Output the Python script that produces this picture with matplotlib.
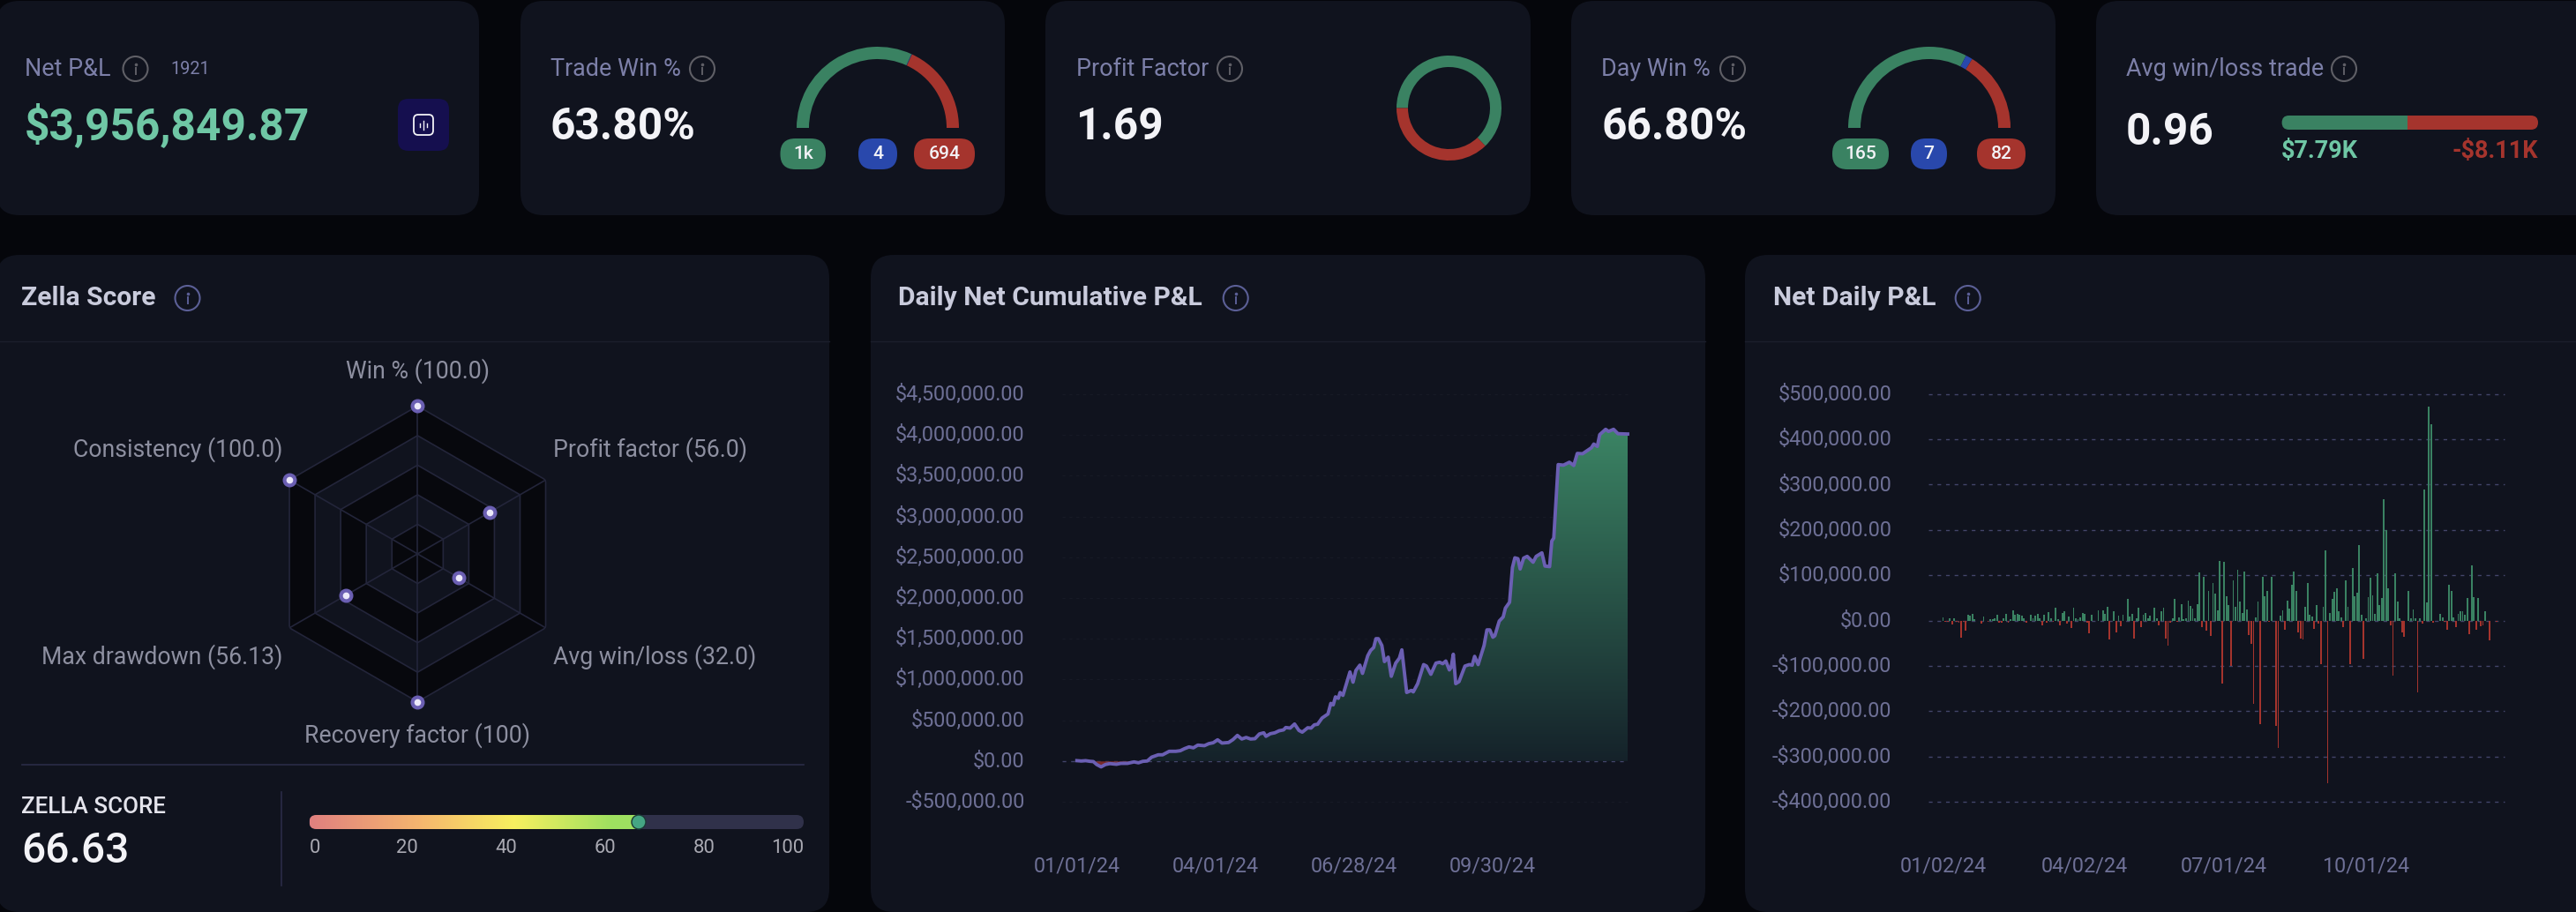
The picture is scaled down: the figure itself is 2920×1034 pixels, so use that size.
#!/usr/bin/env python3
import numpy as np
import matplotlib
matplotlib.use("Agg")
import matplotlib.pyplot as plt
from matplotlib.colors import LinearSegmentedColormap
from matplotlib.patches import Circle, FancyBboxPatch, Rectangle, Wedge
from matplotlib.transforms import ScaledTranslation

plt.rcParams["font.family"] = ["Roboto", "DejaVu Sans"]

W, H = 2920, 1034

# top row
net_pnl = "$3,956,849.87"
trade_counts = [1223, 4, 694]
trade_labels = ["1k", "4", "694"]
day_counts = [165, 7, 82]
day_labels = ["165", "7", "82"]
profit_factor = 1.69
avg_win, avg_loss = 7.79, 8.11

# radar
radar_names = ["Win % (100.0)", "Profit factor (56.0)", "Avg win/loss (32.0)",
               "Recovery factor (100)", "Max drawdown (56.13)", "Consistency (100.0)"]
radar_values = [100, 56, 32, 100, 56.13, 100]
zella_score = 66.63
score_ticks = ["0", "20", "40", "60", "80", "100"]

# cumulative P&L, thousands of dollars
cum_days = [0, 2, 4, 6, 7.5, 9, 11, 13, 15, 18, 20, 23, 26, 28, 30, 32, 34, 37, 39, 42, 45, 47, 49, 51, 53,
            55, 58, 60, 62, 64, 66, 69, 71, 73, 75, 77, 79, 81, 83, 85, 86, 88, 90, 92, 94, 95, 97, 99, 101,
            102.5, 105, 106.5, 108, 109.5, 111.5, 114.2, 115.5, 116.6, 117.6, 118.9, 119.7, 121, 122.6, 124.2,
            125.6, 126.9, 128.7, 129.9, 132.3, 133.6, 135, 136, 137.1, 138.7, 139.9, 141.6, 143, 145, 146.7,
            147.8, 150, 152.1, 153, 155, 157.7, 159, 161, 163.3, 165, 166.4, 167.8, 169.4, 170.2, 171.2, 172.3,
            173.8, 176.5, 178.5, 179.8, 180.9, 182.5, 185.2, 186.5, 187.8, 189.2, 190.1, 192.1, 193.9, 194.9,
            196.8, 198.1, 199.2, 200.6, 201.6, 203.2, 204.8, 207.5, 208.9, 211.5, 212.9, 215, 216, 216.9, 218.9,
            221.3, 224, 226, 227.6, 230, 234, 235.1, 236.7, 237.8, 240.5, 241.8, 244.1, 246.1, 250.5]
cum_values = [4, 0, 4, -4, -7, -43, -72, -43, -32, -40, -29, -29, -11, -22, -4, 0, 47, 76, 76, 119, 119, 126, 152, 173, 162,
              195, 188, 213, 224, 260, 220, 227, 263, 314, 270, 289, 270, 274, 332, 346, 303, 335, 346, 371, 382, 411, 404, 454, 375,
              354, 408, 404, 444, 451, 527, 577, 707, 689, 787, 769, 841, 805, 949, 1093,
              967, 1111, 1176, 1075, 1292, 1357, 1393, 1501, 1501, 1418, 1220, 1274, 1039, 1201, 1263,
              1364, 841, 866, 848, 949, 1183, 1165, 1064, 1201, 1212, 1194, 1227, 1118, 1147, 1310, 949,
              974, 1165, 1183, 1176, 1284, 1183, 1418, 1609, 1609, 1519, 1537, 1717, 1768, 1876,
              1948, 2374, 2493, 2482, 2356, 2490, 2511, 2439, 2511, 2554, 2392, 2385, 2699, 2735, 3637,
              3630, 3666, 3626, 3774, 3770, 3843, 3889, 3860, 4005, 4070, 4044, 4070, 4016, 4012]
cum_ticks = [0, 63, 126, 189]
cum_tick_labels = ["01/01/24", "04/01/24", "06/28/24", "09/30/24"]
cum_y_ticks = [-500000, 0, 500000, 1000000, 1500000, 2000000, 2500000, 3000000, 3500000, 4000000, 4500000]

# daily P&L, thousands of dollars; days left out are flat
bar_days = [0, 1, 2, 3, 4, 5, 6, 7, 8, 9, 10, 11, 12, 13, 14, 17, 18, 20, 21, 22, 23, 24, 25, 26, 27, 28, 29, 30, 31, 32,
            33, 34, 35, 36, 37, 39, 40, 41, 42, 43, 44, 45, 46, 47, 48, 49, 50, 51, 52, 53, 54, 55, 56, 57, 58, 59, 60,
            61, 62, 63, 64, 65, 66, 67, 68, 69, 71, 72, 73, 74, 76, 77, 78, 79, 80, 82, 83, 84, 85, 86, 87, 88, 89, 90,
            91, 92, 94, 95, 96, 97, 98, 99, 100, 101, 102, 103, 104, 105, 106, 107, 108, 109, 110, 111, 112, 113, 114,
            115, 116, 117, 118, 119, 120, 121, 122, 123, 124, 125, 126, 127, 128, 129, 130, 131, 132, 133, 134, 135,
            136, 137, 138, 139, 140, 141, 142, 143, 144, 145, 146, 148, 149, 150, 151, 152, 153, 154, 155, 156, 157,
            158, 159, 160, 161, 162, 163, 164, 165, 166, 167, 168, 169, 170, 171, 172, 173, 174, 175, 176, 177, 178,
            179, 180, 181, 182, 183, 184, 185, 186, 187, 188, 189, 190, 191, 192, 193, 194, 195, 196, 197, 198, 199,
            200, 201, 202, 203, 204, 205, 207, 208, 209, 210, 211, 212, 213, 214, 215, 216, 217, 218, 219, 221, 222,
            223, 224, 225, 226, 227, 228, 229, 230, 231, 232, 233, 234, 235, 236, 237, 238, 239, 240, 241, 243, 246]
bar_values = [6.5, -2, -2, 5, -8, 4, -3, -5, -37, -2, -23, 13, 10, 14, 3, -6.5, 8.5, -3, 3, 3, 5, 13, -4, -5, 5, 14, -4, 3, 23, 12,
              14, 13, 11, 4, -5, 12, 5, 11, 14, 5, -10, 12, -5, 19, 5, -3, 29, 3, -10, 16, 20, -7, 8, -16, 29, 5, 3,
              6, 16, 14, -5, -29, 12, -1, -1, 23, 22, 14, 30, -41, 21, -26, 10, -12, 13, 47, 8, 15, -40, 5, 29, -14, 13, 16,
              4, 11, 29, 5, -10, 21, 29, -39, -55, -4, 5, 47, -3, 6.5, 36, 2, 5, 44, 32, 26, 4, 37, 107,
              -14, 96, -23, 66, -34, 83, 60, 23, 131, -140, 129, 53, 35, -101, 88, 31, 112, 42, 17, 109, 25,
              -32, -51, -184, 6, 41, -229, 97, 53, 65, -3, 97, -232, -281, 10, 22, -21, 44, 26, 79, 108, 66,
              -26, -39, -42, 31, 82, 13, 9, -18, 35, -6.5, -97, 31, 155, -359, 17, 47, 63, 71, 21, 7, -15,
              88, 30, -96, 116, 53, 62, 166, 13, -84, 5, 52, 94, 55, 15, 104, 35, 49, 267, 200, 71, -10,
              -122, 104, 42, 4, -27, -36, 66, 4, 25, 4, -158, 4, -6.5, 289, 39, 473, 433, -4, -1, 15, 6,
              -3, -21, 79, 65, 6, -15, 15, 21, 21, 13, 50, -30, 122, 52, -20, 49, -12, -10, 20, -43, -3]
bar_ticks = [0, 63, 125, 188]
bar_tick_labels = ["01/02/24", "04/02/24", "07/01/24", "10/01/24"]
bar_y_ticks = [-400000, -300000, -200000, -100000, 0, 100000, 200000, 300000, 400000, 500000]

PAGE = "#05060b"
CARD = "#10131e"
GREEN = "#3a8262"
RED = "#a5342d"
BLUE = "#2948ac"
MINT = "#6fc7a5"
PURPLE = "#6b5fb3"
LABEL = "#7c7fa8"
WHITE = "#f3f3f7"
TICK = "#6e7096"
RULE = "#1c1f2c"
DASH = "#43456a"

fig = plt.figure(figsize=(W / 100, H / 100), dpi=100, facecolor=PAGE)
bg = fig.add_axes([0, 0, 1, 1])
bg.set_xlim(0, W); bg.set_ylim(H, 0); bg.axis("off")


def px_axes(x0, y0, x1, y1, **kw):
    ax = fig.add_axes([x0 / W, 1 - y1 / H, (x1 - x0) / W, (y1 - y0) / H], **kw)
    ax.patch.set_alpha(0)
    return ax


def rbox(x0, y0, x1, y1, r, color, z=1, **kw):
    p = FancyBboxPatch((x0, y0), x1 - x0, y1 - y0, boxstyle=f"round,pad=0,rounding_size={r}",
                       fc=color, ec="none", zorder=z, **kw)
    bg.add_patch(p)
    return p


def txt(x, y, s, px, color, ha="left", weight="normal"):
    return bg.text(x, y, s, fontsize=px * 0.72, color=color, ha=ha, va="center", fontweight=weight, zorder=5)


def info(x, y, color, r=14):
    bg.add_patch(Circle((x, y), r, fc="none", ec=color, lw=1.5, zorder=5))
    bg.plot([x, x], [y - 1, y + 6], color=color, lw=1.4, zorder=5)
    bg.plot([x], [y - 5], "o", ms=1.6, color=color, zorder=5)


def stat_card(x0, x1, title, tx, ix):
    rbox(x0, 1, x1, 244, 26, CARD)
    txt(tx, 78, title, 27, LABEL)
    info(ix, 78, "#5f5f66")


def gauge(cx, counts, labels, pills):
    total = sum(counts)
    start = 180
    for n, c in zip(counts, [GREEN, BLUE, RED]):
        end = start + max(180 * n / total, 0.3)
        bg.add_patch(Wedge((cx, 145), 92, start, end, width=14, fc=c, ec="none", zorder=3))
        start = end
    for (a, b), c, s in zip(pills, [GREEN, BLUE, RED], labels):
        rbox(a, 157, b, 192, 17, c, z=3)
        txt((a + b) / 2, 175, s, 21, WHITE, ha="center", weight="medium")


# top row cards
stat_card(-4, 543, "Net P&L", 28, 153.5)
txt(193, 78, "1921", 20, LABEL)
txt(28, 144, net_pnl, 49.6, MINT, weight="bold")
rbox(451, 112, 509, 171, 12, "#150f4f", z=2)
bg.add_patch(FancyBboxPatch((469, 130), 22, 23, boxstyle="round,pad=0,rounding_size=5", fc="none", ec=WHITE, lw=1.3, zorder=3))
for dx, h in zip([-4, 0, 4], [2, 5, 2]):
    bg.plot([480 + dx, 480 + dx], [141.5 - h, 141.5 + h], color=WHITE, lw=1, zorder=3)

stat_card(590, 1139, "Trade Win %", 624, 796)
txt(624, 144, "63.80%", 49.6, WHITE, weight="bold")
gauge(995, trade_counts, trade_labels, [(884.5, 936), (973, 1017), (1036, 1105)])

stat_card(1185, 1735, "Profit Factor", 1220, 1394)
txt(1220, 144, f"{profit_factor:.2f}", 49.6, WHITE, weight="bold")
sweep = 360 * profit_factor / (profit_factor + 1)
bg.add_patch(Wedge((1642.5, 122.5), 59.5, 180, 180 + sweep, width=13, fc=GREEN, ec="none", zorder=3))
bg.add_patch(Wedge((1642.5, 122.5), 59.5, 180 + sweep, 540, width=13, fc=RED, ec="none", zorder=3))

stat_card(1781, 2330, "Day Win %", 1815, 1964)
txt(1815, 144, "66.80%", 49.6, WHITE, weight="bold")
gauge(2187, day_counts, day_labels, [(2077, 2141), (2166, 2207), (2241, 2296)])

stat_card(2376, 2960, "Avg win/loss trade", 2410, 2657)
txt(2410, 150, f"{avg_win / avg_loss:.2f}", 49.6, WHITE, weight="bold")
split = 2586.6 + 290.4 * avg_win / (avg_win + avg_loss)
rbox(2586.6, 131, 2620, 147, 8, GREEN, z=3)
bg.add_patch(Rectangle((2595, 131), split - 2595, 16, fc=GREEN, ec="none", zorder=3))
rbox(2840, 131, 2877, 147, 8, RED, z=3)
bg.add_patch(Rectangle((split, 131), 2868 - split, 16, fc=RED, ec="none", zorder=3))
txt(2586, 172, f"${avg_win}K", 27, MINT, weight="bold")
txt(2877, 172, f"-${avg_loss}K", 27, RED, ha="right", weight="bold")

# lower cards
for x0, x1, title, tx, ix in [(-4, 940, "Zella Score", 24.5, 212.5),
                              (987, 1933, "Daily Net Cumulative P&L", 1018, 1400.7),
                              (1978, 2960, "Net Daily P&L", 2009.6, 2230.7)]:
    rbox(x0, 289, x1, 1034, 26, CARD)
    bg.plot([x0, x1], [387, 387], color=RULE, lw=1, zorder=2)
    txt(tx, 338, title, 30, "#c9cbdc", weight="bold")
    info(ix, 338, "#5b5f96")

# radar
radar = px_axes(473.3 - 167.7, 628 - 167.7, 473.3 + 167.7, 628 + 167.7, projection="polar")
radar.set_theta_zero_location("N"); radar.set_theta_direction(-1)
radar.set_ylim(0, 100); radar.axis("off")
theta = np.deg2rad(np.arange(0, 360, 60))
ring_theta = np.append(theta, theta[0])
for level, c in zip([100, 80, 60, 40, 20], ["#07080d", "#10131e", "#07080d", "#10131e", "#07080d"]):
    radar.fill(ring_theta, [level] * 7, fc=c, ec="#23253a", lw=1.2, zorder=2)
for t in theta:
    radar.plot([t, t], [0, 100], color="#23253a", lw=1.2, zorder=3)
radar.plot(theta, radar_values, "o", ms=10.5, color=PURPLE, ls="none", clip_on=False, zorder=4)
radar.plot(theta, radar_values, "o", ms=4.5, color="#ece9fa", ls="none", clip_on=False, zorder=5)
name_pos = [(473.4, 421, "center"), (627, 510, "left"), (627, 745, "left"),
            (473.4, 834, "center"), (320, 745, "right"), (320, 510, "right")]
for name, (x, y, ha) in zip(radar_names, name_pos):
    txt(x, y, name, 26.6, "#8d8fa0", ha=ha)

# score block
bg.plot([24.5, 911], [866.5, 866.5], color="#2a2c47", lw=1.2, zorder=2)
txt(24.5, 915.5, "ZELLA SCORE", 26, "#e4e4ec", weight="medium")
txt(24.5, 965, f"{zella_score:.2f}", 48, WHITE, weight="medium")
bg.plot([319, 319], [898, 1004], color="#2a2c47", lw=1.2, zorder=2)
rbox(350.6, 924, 911, 940, 8, "#30314a", z=2)
bar_x0, bar_x1 = 350.6, 911
score_x = bar_x0 + (bar_x1 - bar_x0) * zella_score / 100
score_cmap = LinearSegmentedColormap.from_list("score", [(0, "#e0807f"), (0.33, "#f5b56f"), (0.62, "#f8f05f"),
                                                          (0.92, "#9ee060"), (1, "#9ee060")])
im = bg.imshow(np.linspace(0, 1, 256)[None, :], cmap=score_cmap, aspect="auto", zorder=3,
               extent=(bar_x0, score_x, 940, 924))
im.set_clip_path(rbox(bar_x0, 924, score_x + 6, 940, 8, "none", z=0))
bg.set_xlim(0, W); bg.set_ylim(H, 0)
bg.add_patch(Circle((score_x, 932), 8, fc="#45a583", ec="#1c3a36", lw=1, zorder=4))
tick_xs = [bar_x0, 461.6, 573.7, 686, 798, bar_x1]
for i, (x, s) in enumerate(zip(tick_xs, score_ticks)):
    txt(x, 961.5, s, 22, "#a9a9b2", ha="left" if i == 0 else "right" if i == 5 else "center")


def money(v):
    return ("-" if v < 0 else "") + f"${abs(v):,.2f}"


def style_axis(ax, yticks, xticks, xlabels):
    ax.set_yticks(yticks, [money(v) for v in yticks])
    ax.set_xticks(xticks, xlabels)
    for s in ax.spines.values():
        s.set_visible(False)
    ax.tick_params(axis="y", length=0, pad=30, labelsize=16.8, labelcolor=TICK)
    ax.tick_params(axis="x", length=0, pad=44, labelsize=16.8, labelcolor=TICK)
    nudge = ScaledTranslation(0, 2 / 100, fig.dpi_scale_trans)
    for label in ax.get_yticklabels():
        label.set_transform(label.get_transform() + nudge)


# cumulative chart
cum = px_axes(1203.5, 447, 1845, 909)
days = np.array(cum_days)
vals = np.array(cum_values) * 1000.0
cum.set_xlim(-6.9, 250.5); cum.set_ylim(-500000, 4500000)
style_axis(cum, cum_y_ticks, cum_ticks, cum_tick_labels)
for v in cum_y_ticks:
    if v != 0:
        cum.axhline(v, color="#171a26", lw=0.8, dashes=(3, 4), zorder=0, clip_on=False)
cum.axhline(0, color=DASH, lw=1, dashes=(3, 4), zorder=1)
fill_green = LinearSegmentedColormap.from_list("area", ["#3b8464", "#15222a"])
area = cum.fill_between(days, 0, np.maximum(vals, 0), color="none")
grad = cum.imshow(np.linspace(0, 1, 256)[:, None], cmap=fill_green, aspect="auto", zorder=2,
                  extent=(days[0], days[-1], 0, vals.max()), origin="upper")
grad.set_clip_path(area.get_paths()[0], cum.transData)
cum.fill_between(days, 0, np.minimum(vals, 0), color="#7a2a28", lw=0, zorder=2)
cum.set_xlim(-6.9, 250.5); cum.set_ylim(-500000, 4500000)
cum.plot(days, vals, color=PURPLE, lw=2.8, solid_joinstyle="round", zorder=3, clip_on=False)

# daily chart
daily = px_axes(2186, 446.8, 2838.7, 908.9)
daily.set_xlim(-6.5, 249.5); daily.set_ylim(-400000, 500000)
style_axis(daily, bar_y_ticks, bar_ticks, bar_tick_labels)
for v in bar_y_ticks:
    daily.axhline(v, color=DASH, lw=1, dashes=(3, 4), zorder=1, clip_on=False)
amounts = np.array(bar_values) * 1000.0
daily.bar(bar_days, amounts, width=0.72, color=[GREEN if a > 0 else RED for a in amounts], lw=0, zorder=2)

fig.savefig("out.png", dpi=100, facecolor=PAGE)
